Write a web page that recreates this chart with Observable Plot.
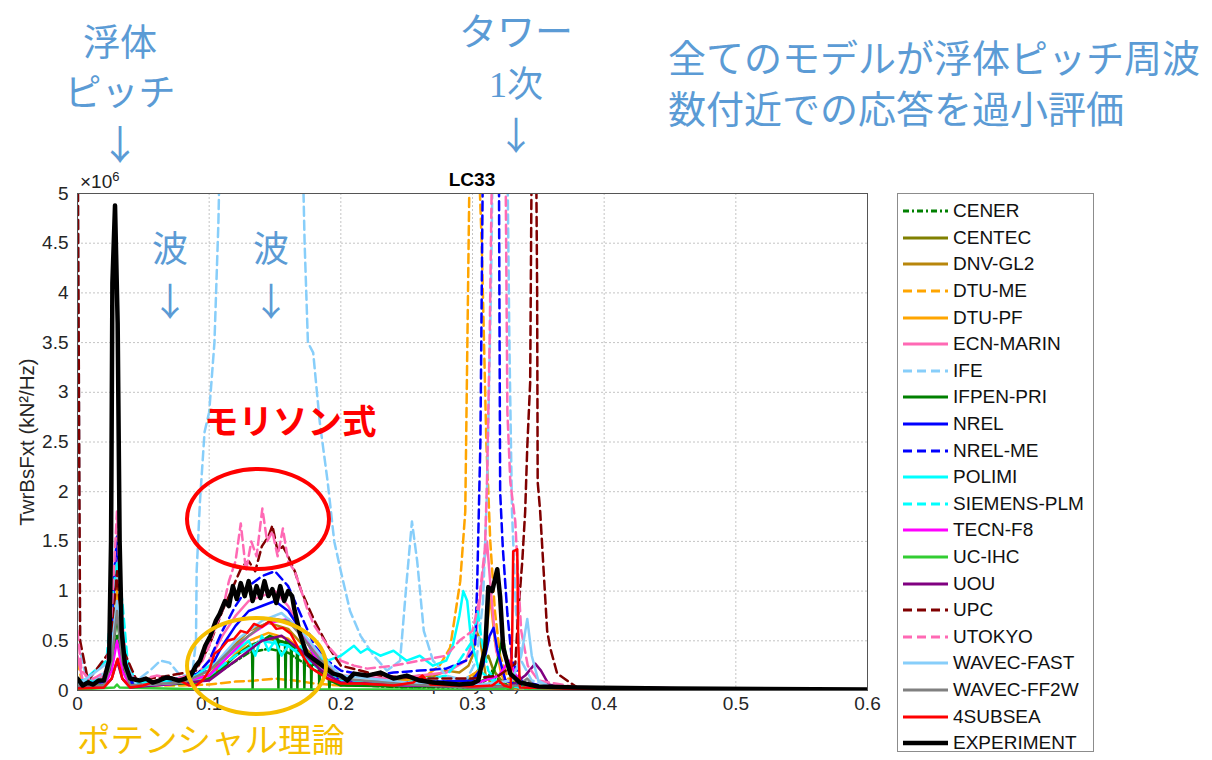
<!DOCTYPE html>
<html><head><meta charset="utf-8">
<script src="https://cdn.jsdelivr.net/npm/d3@7"></script>
<script src="https://cdn.jsdelivr.net/npm/@observablehq/plot@0.6"></script>
<style>
body{margin:0;background:#fff;width:1212px;height:760px;overflow:hidden;position:relative;font-family:"Liberation Sans",Arial,sans-serif}
#chart{position:absolute;left:0;top:0}
.ann{position:absolute;font-family:"Noto Sans CJK JP",sans-serif;white-space:nowrap;line-height:1}
.blue{color:#5B9BD5}
.ctr{transform:translateX(-50%);text-align:center}
#legend{position:absolute;left:897px;top:193px;width:197px;height:559px;border:1px solid #8c8c8c;box-sizing:border-box;background:#fff;padding-top:4px}
.le{height:26.6px;display:flex;align-items:center;font-size:19px;color:#111}
.le svg{margin-left:5px;margin-right:5px}
.ell{position:absolute;border-radius:50%;box-sizing:border-box}
</style></head><body>
<div id="chart"></div>
<div id="legend"></div>

<div class="ann blue ctr" style="left:120px;top:22px;font-size:37px">浮体</div>
<div class="ann blue ctr" style="left:120px;top:72px;font-size:37px">ピッチ</div>
<div class="ann blue ctr" style="left:120px;top:122px;font-size:40px">↓</div>
<div class="ann blue ctr" style="left:170px;top:228px;font-size:36px">波</div>
<div class="ann blue ctr" style="left:170px;top:280px;font-size:38px">↓</div>
<div class="ann blue ctr" style="left:271px;top:228px;font-size:36px">波</div>
<div class="ann blue ctr" style="left:271px;top:280px;font-size:38px">↓</div>
<div class="ann blue ctr" style="left:516px;top:10px;font-size:38px">タワー</div>
<div class="ann blue ctr" style="left:516px;top:63px;font-size:36px"><span style="font-family:'Liberation Serif',serif">1</span>次</div>
<div class="ann blue ctr" style="left:516px;top:114px;font-size:38px">↓</div>
<div class="ann blue" style="left:668px;top:37px;font-size:38px">全てのモデルが浮体ピッチ周波</div>
<div class="ann blue" style="left:668px;top:88px;font-size:38px">数付近での応答を過小評価</div>
<div class="ann" style="left:204px;top:402px;font-size:34.5px;color:#ff0000;font-weight:bold">モリソン式</div>
<div class="ann" style="left:77px;top:721px;font-size:33.5px;color:#F5BE00">ポテンシャル理論</div>
<div class="ell" style="left:185px;top:467px;width:146px;height:104px;border:4px solid #ff0000"></div>
<div class="ell" style="left:185px;top:616px;width:143px;height:100px;border:4px solid #F5BE00"></div>
<div class="ann" style="left:80px;top:170px;font-size:19px;font-family:'Liberation Sans',Arial,sans-serif;color:#222">×10<sup style="font-size:13px;vertical-align:7px">6</sup></div>
<div class="ann ctr" style="left:472px;top:170px;font-size:19px;font-family:'Liberation Sans',Arial,sans-serif;font-weight:bold;color:#000">LC33</div>

<script>
// ---- axes / tick labels ----
const xTicks = [0, 0.1, 0.2, 0.3, 0.4, 0.5, 0.6];
const xTickLabels = ["0", "0.1", "0.2", "0.3", "0.4", "0.5", "0.6"];
const yTicks = [0, 0.5, 1, 1.5, 2, 2.5, 3, 3.5, 4, 4.5, 5];
const yTickLabels = ["0", "0.5", "1", "1.5", "2", "2.5", "3", "3.5", "4", "4.5", "5"];

// ---- series (legend order), values in 10^6 kN^2/Hz ----
const seriesNames = ["CENER","CENTEC","DNV-GL2","DTU-ME","DTU-PF","ECN-MARIN","IFE","IFPEN-PRI","NREL","NREL-ME","POLIMI","SIEMENS-PLM","TECN-F8","UC-IHC","UOU","UPC","UTOKYO","WAVEC-FAST","WAVEC-FF2W","4SUBSEA","EXPERIMENT"];
const seriesColors = ["#008000","#808000","#B8860B","#FFA500","#FFA500","#FF69B4","#87CEFA","#008000","#0000FF","#0000FF","#00FFFF","#00FFFF","#FF00FF","#32CD32","#800080","#800000","#FF69B4","#87CEFA","#808080","#FF0000","#000000"];
const seriesDash = ["6,3,2,3",null,null,"9,5",null,null,"9,5",null,null,"9,5",null,"9,5",null,null,null,"9,5","9,5",null,null,null,null];

const CENER = [[0,0.05],[0.02,0.04],[0.026,0.25],[0.03,0.55],[0.034,0.25],[0.04,0.04],[0.07,0.06],[0.1,0.12],[0.115,0.25],[0.13,0.38],[0.145,0.42],[0.16,0.38],[0.175,0.25],[0.19,0.12],[0.2,0.06],[0.25,0.03],[0.3,0.04],[0.31,0.1],[0.316,0.22],[0.32,0.1],[0.33,0.03],[0.4,0.01],[0.6,0]];
const CENTEC = [[0,0.08],[0.02,0.05],[0.026,0.3],[0.03,0.95],[0.034,0.3],[0.04,0.05],[0.07,0.08],[0.1,0.15],[0.115,0.3],[0.13,0.45],[0.145,0.52],[0.16,0.48],[0.175,0.32],[0.19,0.15],[0.2,0.08],[0.25,0.06],[0.28,0.08],[0.3,0.12],[0.308,0.28],[0.312,0.35],[0.316,0.2],[0.325,0.05],[0.35,0.01],[0.6,0]];
const DNVGL2 = [[0,0.1],[0.02,0.05],[0.026,0.4],[0.03,1.15],[0.034,0.4],[0.04,0.06],[0.07,0.08],[0.1,0.15],[0.115,0.4],[0.13,0.6],[0.145,0.68],[0.16,0.62],[0.175,0.4],[0.19,0.2],[0.2,0.1],[0.23,0.08],[0.25,0.12],[0.26,0.15],[0.27,0.14],[0.28,0.2],[0.29,0.18],[0.297,0.25],[0.3,0.35],[0.303,0.6],[0.306,0.5],[0.31,0.15],[0.315,0.06],[0.33,0.02],[0.6,0]];
const DTUME = [[0,0.3],[0.004,0.05],[0.022,0.1],[0.026,0.45],[0.03,1.05],[0.034,0.45],[0.04,0.05],[0.08,0.05],[0.1,0.06],[0.12,0.09],[0.135,0.1],[0.15,0.12],[0.165,0.1],[0.18,0.07],[0.2,0.05],[0.23,0.06],[0.25,0.1],[0.265,0.15],[0.275,0.25],[0.283,0.43],[0.2907,1.1],[0.2945,1.8],[0.298,5.5],[0.303,6],[0.307,4.5],[0.3105,2.5],[0.3135,1.5],[0.317,0.8],[0.321,0.35],[0.327,0.12],[0.34,0.04],[0.38,0.01],[0.6,0]];
const DTUPF = [[0,0.1],[0.02,0.05],[0.026,0.35],[0.03,1.0],[0.034,0.35],[0.04,0.05],[0.07,0.07],[0.1,0.12],[0.115,0.3],[0.13,0.5],[0.145,0.58],[0.16,0.52],[0.175,0.35],[0.19,0.15],[0.2,0.07],[0.25,0.05],[0.29,0.08],[0.305,0.2],[0.31,0.5],[0.3135,0.95],[0.317,0.5],[0.322,0.15],[0.33,0.04],[0.36,0.01],[0.6,0]];
const ECNMARIN = [[0,0.35],[0.004,0.1],[0.022,0.15],[0.026,0.7],[0.03,1.5],[0.034,0.7],[0.038,0.15],[0.05,0.08],[0.07,0.1],[0.09,0.15],[0.1,0.3],[0.11,0.55],[0.12,0.75],[0.13,0.9],[0.14,0.95],[0.15,1.0],[0.16,0.85],[0.17,0.6],[0.18,0.4],[0.19,0.25],[0.2,0.15],[0.24,0.12],[0.28,0.18],[0.295,0.3],[0.303,0.6],[0.308,1.2],[0.311,1.5],[0.314,1.0],[0.318,0.4],[0.325,0.1],[0.34,0.03],[0.6,0]];
const IFE = [[0,6],[0.002,0.4],[0.008,0.05],[0.022,0.2],[0.027,0.8],[0.03,1.3],[0.033,0.8],[0.038,0.2],[0.045,0.1],[0.055,0.2],[0.063,0.3],[0.07,0.28],[0.078,0.15],[0.087,0.15],[0.09,0.5],[0.0905,1.2],[0.093,1.9],[0.0965,2.6],[0.1,2.8],[0.104,3.5],[0.107,4.7],[0.109,6],[0.17,6],[0.1725,4.5],[0.175,3.5],[0.179,3.4],[0.184,2.7],[0.19,2.1],[0.195,1.5],[0.2,1.2],[0.207,0.8],[0.215,0.55],[0.225,0.35],[0.235,0.2],[0.245,0.3],[0.25,1.1],[0.254,1.7],[0.258,1.3],[0.263,0.6],[0.27,0.3],[0.28,0.15],[0.295,0.1],[0.303,0.3],[0.308,0.9],[0.311,2.0],[0.314,4],[0.316,6],[0.326,6],[0.328,3.5],[0.33,1.8],[0.333,0.8],[0.337,0.3],[0.345,0.1],[0.37,0.02],[0.6,0]];
const IFPENPRI = [[0,0.05],[0.02,0.05],[0.026,0.3],[0.03,0.75],[0.034,0.3],[0.04,0.05],[0.07,0.06],[0.09,0.08],[0.1,0.12],[0.11,0.22],[0.12,0.35],[0.128,0.42],[0.1325,0.45],[0.133,0.02],[0.1335,0.46],[0.14,0.5],[0.146,0.55],[0.152,0.52],[0.1526,0.02],[0.153,0.5],[0.1576,0.48],[0.158,0.02],[0.1585,0.5],[0.162,0.45],[0.1624,0.02],[0.1628,0.44],[0.1666,0.4],[0.167,0.02],[0.1675,0.42],[0.172,0.36],[0.1723,0.02],[0.1728,0.35],[0.1772,0.3],[0.1776,0.02],[0.178,0.28],[0.1833,0.22],[0.1837,0.02],[0.1842,0.2],[0.1908,0.12],[0.1913,0.02],[0.192,0.1],[0.2,0.05],[0.25,0.04],[0.3,0.05],[0.315,0.15],[0.32,0.35],[0.323,0.55],[0.326,0.3],[0.33,0.08],[0.35,0.02],[0.6,0]];
const NREL = [[0,0.1],[0.02,0.08],[0.025,0.4],[0.028,1.2],[0.03,1.55],[0.032,1.2],[0.035,0.4],[0.04,0.08],[0.07,0.1],[0.1,0.2],[0.11,0.45],[0.12,0.65],[0.13,0.8],[0.14,0.85],[0.15,0.9],[0.16,0.8],[0.17,0.6],[0.18,0.35],[0.19,0.2],[0.2,0.1],[0.25,0.08],[0.3,0.1],[0.308,0.25],[0.313,0.55],[0.316,0.63],[0.319,0.4],[0.325,0.1],[0.34,0.03],[0.6,0]];
const NRELME = [[0,0.1],[0.02,0.08],[0.025,0.4],[0.028,1.2],[0.03,1.45],[0.032,1.2],[0.035,0.4],[0.04,0.08],[0.07,0.1],[0.09,0.15],[0.1,0.3],[0.11,0.6],[0.12,0.85],[0.13,1.05],[0.14,1.15],[0.15,1.2],[0.16,1.05],[0.17,0.75],[0.18,0.45],[0.19,0.3],[0.2,0.2],[0.22,0.15],[0.24,0.18],[0.26,0.2],[0.28,0.22],[0.295,0.3],[0.302,0.43],[0.3036,1.1],[0.306,2.5],[0.308,5.5],[0.32,5.5],[0.321,2.0],[0.323,1.44],[0.3265,0.77],[0.33,0.3],[0.337,0.1],[0.36,0.02],[0.6,0]];
const POLIMI = [[0,0.1],[0.02,0.1],[0.025,0.3],[0.03,0.85],[0.035,0.3],[0.045,0.08],[0.07,0.1],[0.09,0.15],[0.1,0.25],[0.11,0.3],[0.12,0.4],[0.13,0.5],[0.135,0.35],[0.14,0.55],[0.145,0.4],[0.15,0.5],[0.155,0.35],[0.16,0.45],[0.165,0.4],[0.17,0.45],[0.175,0.3],[0.18,0.35],[0.19,0.3],[0.2,0.35],[0.21,0.45],[0.215,0.38],[0.22,0.42],[0.23,0.35],[0.24,0.4],[0.25,0.3],[0.26,0.35],[0.27,0.25],[0.28,0.3],[0.285,0.45],[0.29,0.75],[0.293,1.0],[0.296,0.9],[0.299,0.5],[0.305,0.2],[0.32,0.05],[0.35,0.02],[0.6,0]];
const SIEMENSPLM = [[0,0.05],[0.022,0.3],[0.026,0.9],[0.03,1.3],[0.034,0.9],[0.038,0.3],[0.045,0.05],[0.08,0.08],[0.1,0.15],[0.12,0.35],[0.14,0.5],[0.16,0.45],[0.18,0.25],[0.2,0.1],[0.25,0.08],[0.28,0.15],[0.29,0.3],[0.3,0.5],[0.304,0.8],[0.307,0.5],[0.312,0.2],[0.32,0.05],[0.35,0.01],[0.6,0]];
const TECNF8 = [[0,0.05],[0.02,0.04],[0.026,0.2],[0.03,0.5],[0.034,0.2],[0.04,0.04],[0.07,0.06],[0.1,0.15],[0.115,0.35],[0.13,0.55],[0.145,0.68],[0.16,0.72],[0.17,0.6],[0.18,0.35],[0.19,0.15],[0.2,0.08],[0.25,0.05],[0.3,0.06],[0.32,0.15],[0.328,0.3],[0.333,0.15],[0.34,0.04],[0.6,0]];
const UCIHC = [[0,0.01],[0.028,0.03],[0.03,0.06],[0.032,0.03],[0.1,0.01],[0.2,0.01],[0.3,0.01],[0.33,0.02],[0.335,0.12],[0.34,0.02],[0.6,0]];
const UOU = [[0,0.03],[0.02,0.03],[0.026,0.12],[0.03,0.3],[0.034,0.12],[0.04,0.03],[0.1,0.1],[0.12,0.3],[0.14,0.5],[0.155,0.55],[0.17,0.4],[0.185,0.2],[0.2,0.08],[0.3,0.03],[0.33,0.05],[0.34,0.15],[0.3476,0.27],[0.352,0.2],[0.358,0.06],[0.37,0.02],[0.6,0]];
const UPC = [[0,6],[0.002,0.5],[0.008,0.1],[0.025,0.4],[0.03,1.2],[0.035,0.4],[0.045,0.1],[0.07,0.15],[0.09,0.2],[0.1,0.45],[0.11,0.8],[0.12,1.1],[0.125,1.25],[0.13,1.3],[0.135,1.2],[0.14,1.45],[0.145,1.55],[0.148,1.66],[0.152,1.4],[0.156,1.45],[0.16,1.35],[0.165,1.2],[0.17,1.0],[0.18,0.7],[0.19,0.45],[0.2,0.25],[0.23,0.15],[0.26,0.12],[0.3,0.12],[0.32,0.15],[0.3325,0.27],[0.3347,0.77],[0.3378,1.3],[0.34,1.8],[0.3416,2.45],[0.3438,3.1],[0.345,5.5],[0.348,6],[0.3491,4],[0.3495,2.1],[0.3514,1.8],[0.3567,0.6],[0.359,0.43],[0.3643,0.17],[0.3795,0.03],[0.4,0.01],[0.6,0]];
const UTOKYO = [[0,0.6],[0.003,0.2],[0.01,0.1],[0.022,0.2],[0.026,0.8],[0.03,1.8],[0.033,0.8],[0.037,0.2],[0.045,0.1],[0.06,0.15],[0.075,0.12],[0.085,0.15],[0.095,0.3],[0.1,0.45],[0.105,0.65],[0.11,0.8],[0.115,1.1],[0.12,1.3],[0.124,1.68],[0.128,1.2],[0.132,1.5],[0.136,1.35],[0.1404,1.83],[0.144,1.5],[0.148,1.6],[0.152,1.35],[0.156,1.63],[0.16,1.3],[0.165,1.2],[0.17,1.0],[0.175,0.8],[0.18,0.65],[0.185,0.55],[0.19,0.45],[0.2,0.3],[0.21,0.25],[0.22,0.22],[0.24,0.25],[0.26,0.3],[0.28,0.35],[0.29,0.5],[0.3,0.6],[0.305,0.9],[0.3095,1.44],[0.311,2.1],[0.313,3.5],[0.315,5.5],[0.325,5.5],[0.3265,2.8],[0.3287,2.1],[0.3325,1.7],[0.334,1.3],[0.337,0.6],[0.342,0.25],[0.35,0.1],[0.38,0.03],[0.6,0]];
const WAVECFAST = [[0,0.05],[0.025,0.3],[0.03,0.9],[0.035,0.3],[0.045,0.05],[0.08,0.08],[0.1,0.2],[0.12,0.5],[0.14,0.7],[0.155,0.78],[0.17,0.6],[0.185,0.35],[0.2,0.15],[0.25,0.08],[0.3,0.05],[0.33,0.1],[0.337,0.35],[0.3416,0.72],[0.345,0.35],[0.35,0.1],[0.36,0.03],[0.6,0]];
const WAVECFF2W = [[0,0.05],[0.02,0.05],[0.026,0.3],[0.03,0.8],[0.034,0.3],[0.04,0.05],[0.08,0.08],[0.1,0.2],[0.12,0.45],[0.14,0.65],[0.15,0.72],[0.16,0.7],[0.17,0.55],[0.185,0.3],[0.2,0.12],[0.25,0.06],[0.3,0.03],[0.335,0.05],[0.3416,0.12],[0.347,0.04],[0.6,0]];
const SUBSEA4 = [[0,0.02],[0.02,0.03],[0.026,0.12],[0.0305,0.32],[0.034,0.12],[0.04,0.03],[0.05,0.05],[0.06,0.1],[0.07,0.13],[0.078,0.1],[0.085,0.05],[0.09,0.05],[0.095,0.1],[0.1,0.2],[0.104,0.37],[0.109,0.42],[0.114,0.5],[0.119,0.52],[0.124,0.6],[0.129,0.58],[0.134,0.67],[0.14,0.64],[0.146,0.7],[0.151,0.62],[0.156,0.63],[0.162,0.57],[0.17,0.37],[0.177,0.23],[0.184,0.17],[0.19,0.12],[0.2,0.07],[0.215,0.07],[0.24,0.05],[0.255,0.08],[0.262,0.15],[0.268,0.06],[0.3,0.04],[0.315,0.05],[0.32,0.1],[0.324,0.05],[0.329,0.03],[0.3302,0.6],[0.3309,1.4],[0.334,1.42],[0.3347,0.5],[0.336,0.03],[0.4,0.01],[0.6,0.01]];
const EXPERIMENT = [[0,0.12],[0.004,0.05],[0.008,0.08],[0.012,0.06],[0.016,0.1],[0.02,0.1],[0.024,0.3],[0.0255,1.5],[0.0265,4.1],[0.0285,4.88],[0.0305,3.7],[0.032,1.5],[0.0335,0.6],[0.036,0.27],[0.04,0.12],[0.047,0.1],[0.052,0.12],[0.057,0.08],[0.062,0.1],[0.067,0.13],[0.072,0.12],[0.077,0.1],[0.082,0.12],[0.086,0.15],[0.09,0.25],[0.093,0.3],[0.097,0.45],[0.101,0.55],[0.105,0.7],[0.108,0.77],[0.112,0.9],[0.115,0.85],[0.118,1.05],[0.121,0.92],[0.124,1.08],[0.127,0.95],[0.13,1.1],[0.133,0.9],[0.136,1.05],[0.139,0.93],[0.142,1.1],[0.145,0.95],[0.148,1.02],[0.151,0.88],[0.154,1.05],[0.157,0.9],[0.16,1.0],[0.163,0.95],[0.1645,0.83],[0.169,0.57],[0.174,0.37],[0.184,0.27],[0.194,0.17],[0.2,0.15],[0.205,0.1],[0.21,0.17],[0.22,0.15],[0.23,0.18],[0.24,0.12],[0.25,0.15],[0.26,0.1],[0.27,0.08],[0.28,0.07],[0.29,0.06],[0.3,0.07],[0.3044,0.1],[0.3097,0.43],[0.312,1.04],[0.315,1.0],[0.3188,1.22],[0.321,0.94],[0.3233,0.43],[0.3287,0.17],[0.336,0.08],[0.35,0.04],[0.38,0.03],[0.45,0.02],[0.6,0.01]];

const seriesData = [CENER,CENTEC,DNVGL2,DTUME,DTUPF,ECNMARIN,IFE,IFPENPRI,NREL,NRELME,POLIMI,SIEMENSPLM,TECNF8,UCIHC,UOU,UPC,UTOKYO,WAVECFAST,WAVECFF2W,SUBSEA4,EXPERIMENT];

const rows = seriesNames.map((name, i) => seriesData[i].map(([f, v]) => ({name, f, v})));

const lineMarks = seriesNames.map((name, i) => Plot.line(rows[i], {
  x: "f", y: "v",
  stroke: seriesColors[i],
  strokeWidth: name === "EXPERIMENT" ? 4.5 : 2.5,
  strokeDasharray: seriesDash[i] || undefined,
  strokeLinejoin: "round",
  clip: true
}));

const chart = Plot.plot({
  width: 1212, height: 760,
  marginLeft: 77, marginRight: 345, marginTop: 193, marginBottom: 70,
  style: {fontSize: "19px", fontFamily: "'Liberation Sans', Arial, sans-serif", color: "#262626", background: "transparent"},
  x: {domain: [0, 0.6], ticks: xTicks, tickFormat: (d) => xTickLabels[xTicks.indexOf(d)], tickSize: 0, tickPadding: 6, label: "Frequency (Hz)", labelAnchor: "center", labelArrow: "none", labelOffset: 54},
  y: {domain: [0, 5], ticks: yTicks, tickFormat: (d) => yTickLabels[yTicks.indexOf(d)], tickSize: 0, tickPadding: 9, label: "TwrBsFxt (kN²/Hz)", labelAnchor: "center", labelArrow: "none", labelOffset: 58},
  marks: [
    Plot.gridX(xTicks, {stroke: "#c4c4c4", strokeOpacity: 1, strokeDasharray: "2,2"}),
    Plot.gridY(yTicks, {stroke: "#c4c4c4", strokeOpacity: 1, strokeDasharray: "2,2"}),
    ...lineMarks,
    Plot.frame({stroke: "#555", strokeWidth: 1})
  ]
});
d3.select(chart).selectAll('g[aria-label="x-axis label"]').attr("font-size", "17.5px").attr("transform", "translate(-12,0)");
d3.select(chart).selectAll('g[aria-label="y-axis label"]').attr("font-size", "20.5px");
document.getElementById("chart").appendChild(chart);

// legend
const leg = document.getElementById("legend");
seriesNames.forEach((name, i) => {
  const row = document.createElement("div");
  row.className = "le";
  const sw = name === "EXPERIMENT" ? 4.5 : 3;
  row.innerHTML = `<svg width="45" height="10"><line x1="0" x2="45" y1="5" y2="5" stroke="${seriesColors[i]}" stroke-width="${sw}" ${seriesDash[i] ? `stroke-dasharray="${seriesDash[i]}"` : ""}/></svg><span>${name}</span>`;
  leg.appendChild(row);
});
</script>
</body></html>
